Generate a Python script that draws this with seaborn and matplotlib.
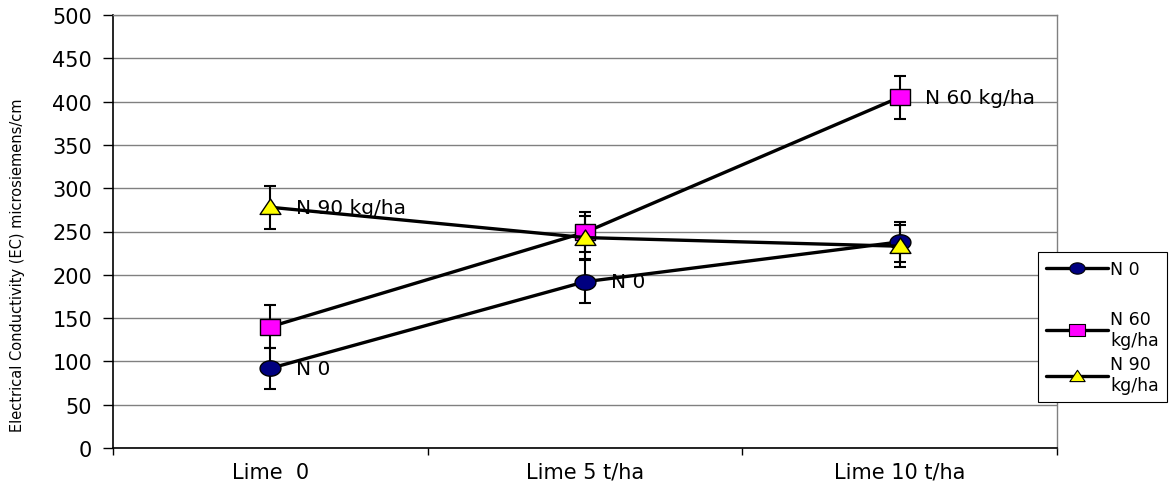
import numpy as np
import pandas as pd
import matplotlib
matplotlib.use("Agg")
import matplotlib.pyplot as plt
from matplotlib.path import Path
from matplotlib.lines import Line2D
import seaborn as sns

# ---- data ----
categories = ["Lime  0", "Lime 5 t/ha", "Lime 10 t/ha"]
series_names = ["N 0", "N 60\nkg/ha", "N 90\nkg/ha"]
n0 = [92, 192, 238]
n60 = [140, 249, 405]
n90 = [278, 243, 233]
n0_err = [24, 25, 23]
n60_err = [25, 23, 25]
n90_err = [25, 25, 24]
point_labels = {  # (series index, category index): text
    (0, 0): "N 0",
    (0, 1): "N 0",
    (1, 2): "N 60 kg/ha",
    (2, 0): "N 90 kg/ha",
}
yticks = [0, 50, 100, 150, 200, 250, 300, 350, 400, 450, 500]
ylabel = "Electrical Conductivity (EC) microsiemens/cm"

values = [n0, n60, n90]
errors = [n0_err, n60_err, n90_err]

# ---- style ----
sns.set_theme(style="white")
plt.rcParams["font.family"] = ["DejaVu Sans"]
for k in ["text.color", "axes.labelcolor", "xtick.color", "ytick.color"]:
    plt.rcParams[k] = "black"

face_colors = ["#000080", "#FF00FF", "#FFFF00"]

# custom (horizontally stretched) marker shapes
sx = 1.35
t = np.linspace(0, 2 * np.pi, 60)
ellipse = Path(np.column_stack([sx * np.cos(t), np.sin(t)]), closed=True)
rect = Path([(-sx, -1), (sx, -1), (sx, 1), (-sx, 1), (-sx, -1)], closed=True)
tri = Path([(-sx, -0.9), (sx, -0.9), (0, 1.1), (-sx, -0.9)], closed=True)
markers = [ellipse, rect, tri]

W, H = 1173, 485
fig = plt.figure(figsize=(W / 100, H / 100), dpi=100)
ax = fig.add_axes([113 / W, 1 - 449 / H, (1057 - 113) / W, (449 - 16) / H])

x = np.arange(len(categories))
df = pd.DataFrame({
    "x": np.tile(x, 3),
    "ec": np.concatenate(values),
    "series": np.repeat(series_names, len(categories)),
})

# gridlines
for yv in yticks:
    ax.axhline(yv, color="#808080", lw=1.0, zorder=0)

handles = []
for i, name in enumerate(series_names):
    sub = df[df["series"] == name]
    ax.errorbar(sub["x"], sub["ec"], yerr=errors[i], fmt="none",
                ecolor="black", elinewidth=1.5, capsize=4.5, capthick=1.5,
                zorder=2)
    sns.lineplot(data=sub, x="x", y="ec", ax=ax, sort=False, errorbar=None,
                 color="black", lw=2.4, marker=markers[i], ms=15,
                 markerfacecolor=face_colors[i], markeredgecolor="black",
                 markeredgewidth=1.0, zorder=3, legend=False)
    handles.append(Line2D([], [], color="black", lw=2.4, marker=markers[i],
                          ms=11, markerfacecolor=face_colors[i],
                          markeredgecolor="black", markeredgewidth=0.8,
                          label=name))

for (si, ci), txt in point_labels.items():
    ax.annotate(txt, xy=(x[ci], values[si][ci]), xytext=(18.5, 0),
                textcoords="offset points", ha="left", va="center",
                fontsize=14.5, color="black", zorder=4)

ax.set_xlim(-0.5, len(categories) - 0.5)
ax.set_ylim(0, 500)
ax.set_yticks(yticks)
ax.set_yticklabels([str(v) for v in yticks], fontsize=15)
ax.set_xticks(np.arange(len(categories) + 1) - 0.5)
ax.set_xticklabels([])
ax.set_xticks(x, minor=True)
ax.set_xticklabels(categories, minor=True, fontsize=15)
ax.tick_params(axis="x", which="major", direction="out", length=5, width=1,
               color="black", bottom=True)
ax.tick_params(axis="x", which="minor", length=0, pad=10)
ax.tick_params(axis="y", which="major", direction="out", length=7, width=1,
               color="black", pad=8, left=True)
ax.set_xlabel("")
ax.set_ylabel("")

for side in ["top", "right"]:
    ax.spines[side].set_visible(True)
    ax.spines[side].set_color("#808080")
    ax.spines[side].set_linewidth(1.0)
for side in ["left", "bottom"]:
    ax.spines[side].set_color("black")
    ax.spines[side].set_linewidth(1.2)

fig.text(18 / W, 1 - 265 / H, ylabel, rotation=90, ha="center", va="center",
         fontsize=10.5, color="black")

spacer = Line2D([], [], color="none", label=" ")
leg = fig.legend(handles=[handles[0], spacer, handles[1], handles[2]],
                 loc="upper left", bbox_to_anchor=(1038 / W, 1 - 253 / H),
                 bbox_transform=fig.transFigure, borderaxespad=0,
                 fontsize=12.5, frameon=True, fancybox=False, framealpha=1,
                 edgecolor="black", handlelength=3.6, handletextpad=0.1,
                 labelspacing=0.4, borderpad=0.45)
leg.get_frame().set_linewidth(0.8)
for txt in leg.get_texts():
    txt.set_color("black")

fig.savefig("out.png", dpi=100)
